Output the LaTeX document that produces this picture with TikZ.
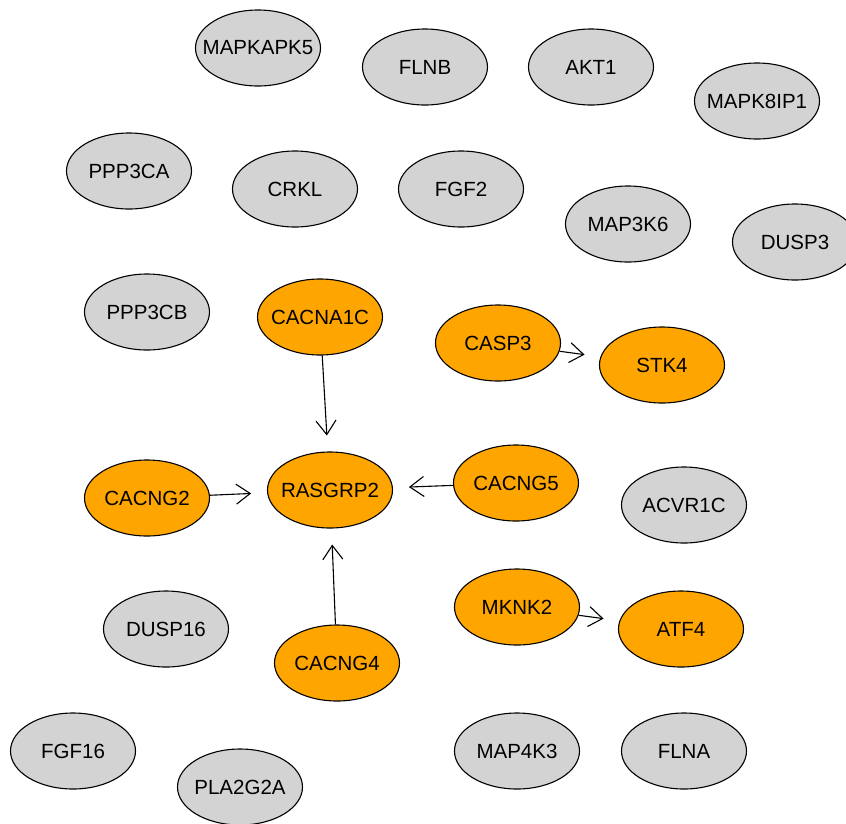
\documentclass[tikz,border=0pt]{standalone}
\usepackage{fontspec}
\setmainfont{Liberation Sans}
\usetikzlibrary{arrows.meta,shapes.geometric}
\definecolor{hitorange}{HTML}{FFA500}
\definecolor{genegray}{HTML}{D3D3D3}
\tikzset{
  gene/.style={ellipse,draw=black,line width=1.1pt,fill=genegray,
    minimum width=125pt,minimum height=76pt,inner sep=0pt,
    font=\fontsize{20.5}{24}\selectfont,
    execute at begin node={\hbox to 0pt\bgroup\hss},
    execute at end node={\hss\egroup}},
  hit/.style={gene,fill=hitorange},
  link/.style={line width=1.1pt,-{Straight Barb[length=14pt,width=20pt,line width=1.1pt]},shorten >=16pt}
}
\begin{document}
\begin{tikzpicture}[x=1pt,y=-1pt]
\useasboundingbox (0,0) rectangle (846,823);

% genes sans lien (en gris)
\node[gene] (MAPKAPK5) at (258,48) {MAPKAPK5};
\node[gene] (FLNB) at (425,67) {FLNB};
\node[gene] (AKT1) at (591,67) {AKT1};
\node[gene] (MAPK8IP1) at (757,101) {MAPK8IP1};
\node[gene] (PPP3CA) at (129,171) {PPP3CA};
\node[gene] (CRKL) at (295,189) {CRKL};
\node[gene] (FGF2) at (461,189) {FGF2};
\node[gene] (MAP3K6) at (628,224) {MAP3K6};
\node[gene] (DUSP3) at (795,242) {DUSP3};
\node[gene] (PPP3CB) at (147,312) {PPP3CB};
\node[gene] (ACVR1C) at (684,505) {ACVR1C};
\node[gene] (DUSP16) at (166,629) {DUSP16};
\node[gene] (FGF16) at (73,751) {FGF16};
\node[gene] (MAP4K3) at (517,751) {MAP4K3};
\node[gene] (FLNA) at (684,751) {FLNA};
\node[gene] (PLA2G2A) at (240,787) {PLA2G2A};

% genes relies (en orange)
\node[hit] (CACNA1C) at (320,317) {CACNA1C};
\node[hit] (CASP3) at (498,343) {CASP3};
\node[hit] (STK4) at (662,365) {STK4};
\node[hit] (CACNG2) at (147,498) {CACNG2};
\node[hit] (RASGRP2) at (330,490) {RASGRP2};
\node[hit] (CACNG5) at (516,483) {CACNG5};
\node[hit] (MKNK2) at (517,607) {MKNK2};
\node[hit] (ATF4) at (681,629) {ATF4};
\node[hit] (CACNG4) at (337,663) {CACNG4};

\draw[link] (CACNA1C) -- (RASGRP2);
\draw[link] (CACNG2) -- (RASGRP2);
\draw[link] (CACNG5) -- (RASGRP2);
\draw[link] (CACNG4) -- (RASGRP2);
\draw[link] (CASP3) -- (STK4);
\draw[link] (MKNK2) -- (ATF4);

\end{tikzpicture}
\end{document}
